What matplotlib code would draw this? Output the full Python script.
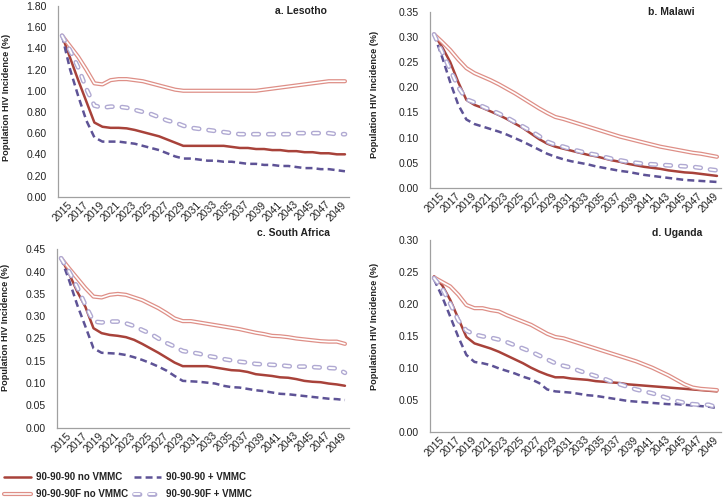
import matplotlib
matplotlib.use("Agg")
import matplotlib.pyplot as plt
import matplotlib.patheffects as pe
from matplotlib.lines import Line2D
import numpy as np

plt.rcParams['font.family'] = ['Liberation Sans', 'DejaVu Sans']
plt.rcParams['lines.scale_dashes'] = False

years = list(range(2015, 2051))
tick_years = list(range(2015, 2050, 2))

series_names = ["90-90-90 no VMMC", "90-90-90 + VMMC", "90-90-90F no VMMC", "90-90-90F + VMMC"]

# ---- a. Lesotho ----
les_909090 = [1.52, 1.31, 1.10, 0.90, 0.70, 0.66, 0.65, 0.65, 0.645, 0.63, 0.61, 0.59, 0.57, 0.54, 0.51, 0.48,
              0.48, 0.48, 0.48, 0.48, 0.48, 0.47, 0.46, 0.46, 0.45, 0.45, 0.44, 0.44, 0.43, 0.43, 0.42, 0.42,
              0.41, 0.41, 0.40, 0.40]
les_909090_v = [1.52, 1.20, 0.95, 0.72, 0.56, 0.52, 0.52, 0.52, 0.51, 0.50, 0.48, 0.46, 0.44, 0.41, 0.38, 0.36,
                0.36, 0.35, 0.34, 0.34, 0.33, 0.33, 0.32, 0.31, 0.31, 0.30, 0.30, 0.29, 0.29, 0.28, 0.27, 0.27,
                0.26, 0.26, 0.25, 0.24]
les_F = [1.52, 1.42, 1.32, 1.20, 1.07, 1.06, 1.10, 1.11, 1.11, 1.10, 1.09, 1.07, 1.05, 1.03, 1.01, 1.00,
         1.00, 1.00, 1.00, 1.00, 1.00, 1.00, 1.00, 1.00, 1.00, 1.01, 1.02, 1.03, 1.04, 1.05, 1.06, 1.07,
         1.08, 1.09, 1.09, 1.09]
les_F_v = [1.52, 1.38, 1.22, 1.02, 0.86, 0.84, 0.85, 0.85, 0.84, 0.82, 0.80, 0.78, 0.75, 0.72, 0.70, 0.67,
           0.65, 0.64, 0.63, 0.62, 0.61, 0.60, 0.59, 0.59, 0.59, 0.59, 0.59, 0.59, 0.59, 0.60, 0.60, 0.60,
           0.60, 0.60, 0.59, 0.59]

# ---- b. Malawi ----
mal_909090 = [0.305, 0.28, 0.25, 0.21, 0.175, 0.165, 0.159, 0.152, 0.145, 0.137, 0.128, 0.119, 0.108, 0.097,
              0.088, 0.082, 0.078, 0.074, 0.070, 0.066, 0.063, 0.059, 0.055, 0.052, 0.048, 0.045, 0.042,
              0.040, 0.038, 0.035, 0.033, 0.031, 0.030, 0.028, 0.026, 0.024]
mal_909090_v = [0.305, 0.26, 0.21, 0.165, 0.136, 0.127, 0.122, 0.117, 0.112, 0.106, 0.099, 0.092, 0.084, 0.076,
                0.068, 0.062, 0.057, 0.053, 0.050, 0.047, 0.043, 0.040, 0.037, 0.034, 0.032, 0.029, 0.026,
                0.024, 0.022, 0.020, 0.018, 0.016, 0.015, 0.014, 0.013, 0.012]
mal_F = [0.305, 0.29, 0.274, 0.255, 0.238, 0.228, 0.221, 0.214, 0.206, 0.197, 0.188, 0.178, 0.168, 0.158,
         0.149, 0.141, 0.137, 0.132, 0.127, 0.122, 0.117, 0.112, 0.107, 0.102, 0.098, 0.094, 0.090, 0.086,
         0.082, 0.079, 0.076, 0.073, 0.070, 0.068, 0.065, 0.062]
mal_F_v = [0.305, 0.27, 0.235, 0.20, 0.176, 0.170, 0.162, 0.155, 0.148, 0.140, 0.131, 0.122, 0.113, 0.103,
           0.092, 0.086, 0.082, 0.077, 0.073, 0.069, 0.066, 0.062, 0.058, 0.055, 0.052, 0.050, 0.048, 0.047,
           0.046, 0.045, 0.044, 0.043, 0.042, 0.040, 0.037, 0.035]

# ---- c. South Africa (values on the axis' own tick positions) ----
sa_909090 = [0.38, 0.345, 0.305, 0.271, 0.223, 0.212, 0.208, 0.206, 0.203, 0.197, 0.188, 0.178, 0.168, 0.157,
             0.146, 0.138, 0.138, 0.138, 0.138, 0.135, 0.132, 0.129, 0.128, 0.125, 0.120, 0.118, 0.116, 0.113,
             0.112, 0.109, 0.105, 0.103, 0.102, 0.099, 0.097, 0.094]
sa_909090_v = [0.38, 0.33, 0.275, 0.227, 0.178, 0.168, 0.167, 0.166, 0.163, 0.158, 0.152, 0.145, 0.137, 0.128,
               0.116, 0.105, 0.104, 0.103, 0.101, 0.099, 0.094, 0.091, 0.090, 0.087, 0.084, 0.082, 0.079, 0.076,
               0.075, 0.073, 0.071, 0.069, 0.067, 0.065, 0.064, 0.062]
sa_F = [0.38, 0.357, 0.335, 0.313, 0.294, 0.292, 0.298, 0.300, 0.298, 0.292, 0.286, 0.277, 0.268, 0.257,
        0.245, 0.239, 0.239, 0.236, 0.233, 0.230, 0.227, 0.224, 0.221, 0.217, 0.213, 0.210, 0.206, 0.205,
        0.203, 0.200, 0.198, 0.196, 0.194, 0.193, 0.193, 0.188]
sa_F_v = [0.38, 0.35, 0.315, 0.275, 0.238, 0.236, 0.238, 0.238, 0.234, 0.228, 0.219, 0.211, 0.200, 0.190,
          0.182, 0.172, 0.169, 0.166, 0.161, 0.158, 0.154, 0.151, 0.148, 0.146, 0.143, 0.142, 0.141, 0.140,
          0.138, 0.137, 0.137, 0.136, 0.135, 0.134, 0.133, 0.123]
sa_tick_labels = ["0.00", "0.05", "0.10", "0.15", "0.25", "0.30", "0.35", "0.40", "0.45"]

# ---- d. Uganda ----
uga_909090 = [0.243, 0.229, 0.206, 0.177, 0.148, 0.138, 0.134, 0.130, 0.125, 0.119, 0.113, 0.107, 0.100, 0.094,
              0.089, 0.085, 0.085, 0.083, 0.082, 0.081, 0.079, 0.078, 0.077, 0.076, 0.074, 0.073, 0.072, 0.071,
              0.070, 0.069, 0.068, 0.067, 0.066, 0.065, 0.064, 0.063]
uga_909090_v = [0.238, 0.211, 0.180, 0.148, 0.120, 0.109, 0.107, 0.104, 0.099, 0.095, 0.091, 0.086, 0.082, 0.076,
                0.066, 0.063, 0.062, 0.061, 0.059, 0.057, 0.056, 0.054, 0.052, 0.050, 0.048, 0.047, 0.046, 0.045,
                0.044, 0.043, 0.043, 0.042, 0.041, 0.040, 0.039, 0.037]
uga_F = [0.241, 0.234, 0.227, 0.214, 0.198, 0.193, 0.193, 0.190, 0.188, 0.182, 0.177, 0.172, 0.167, 0.160,
         0.153, 0.148, 0.146, 0.142, 0.138, 0.134, 0.130, 0.126, 0.122, 0.118, 0.114, 0.110, 0.105, 0.100,
         0.094, 0.088, 0.081, 0.074, 0.069, 0.067, 0.066, 0.065]
uga_F_v = [0.240, 0.224, 0.200, 0.174, 0.158, 0.152, 0.149, 0.147, 0.144, 0.140, 0.135, 0.130, 0.125, 0.119,
           0.113, 0.107, 0.103, 0.100, 0.095, 0.091, 0.087, 0.083, 0.078, 0.074, 0.070, 0.066, 0.063, 0.060,
           0.056, 0.052, 0.048, 0.045, 0.043, 0.042, 0.042, 0.038]

RED = "#A8423A"
PURPLE = "#5E5396"
PINK = "#DE8F87"
LAV = "#B0A9D2"


def style_kwargs(kind):
    if kind == 0:
        return dict(color=RED, lw=1.8, solid_capstyle='round')
    if kind == 1:
        return dict(color=PURPLE, lw=1.8, linestyle=(0, (5, 3)), dash_capstyle='butt')
    if kind == 2:
        return dict(color=PINK, lw=3.0, solid_capstyle='round',
                    path_effects=[pe.Stroke(linewidth=3.0, foreground=PINK),
                                  pe.Stroke(linewidth=1.2, foreground='white')])
    return dict(color=LAV, lw=3.4, linestyle=(0, (4.0, 6.8)), dash_capstyle='round',
                path_effects=[pe.Stroke(linewidth=3.4, foreground=LAV),
                              pe.Stroke(linewidth=1.4, foreground='white')])


W, H = 724, 503
fig = plt.figure(figsize=(W / 100, H / 100), dpi=100)

panels = [
    dict(rect=(58, 6, 349, 196.7), ylim=(0, 1.80), yticks=np.arange(0, 1.81, 0.2), labels=None,
         data=[les_909090, les_909090_v, les_F, les_F_v], title="a. Lesotho", tpos=(327, 11), ylab=(-0.16, 0.52)),
    dict(rect=(430, 11.7, 721, 188), ylim=(0, 0.35), yticks=np.arange(0, 0.351, 0.05), labels=None,
         data=[mal_909090, mal_909090_v, mal_F, mal_F_v], title="b. Malawi", tpos=(695, 12), ylab=(-0.175, 0.53)),
    dict(rect=(57, 249.3, 349, 427.7), ylim=(0, 0.40), yticks=np.arange(0, 0.401, 0.05), labels=sa_tick_labels,
         data=[sa_909090, sa_909090_v, sa_F, sa_F_v], title="c. South Africa", tpos=(330, 233), ylab=(-0.16, 0.56)),
    dict(rect=(430, 239.7, 721, 431.7), ylim=(0, 0.30), yticks=np.arange(0, 0.301, 0.05), labels=None,
         data=[uga_909090, uga_909090_v, uga_F, uga_F_v], title="d. Uganda", tpos=(702, 233), ylab=(-0.175, 0.55)),
]

x = np.arange(len(years))
for p in panels:
    x0, y0, x1, y1 = p["rect"]
    ax = fig.add_axes([x0 / W, 1 - y1 / H, (x1 - x0) / W, (y1 - y0) / H])
    for k, vals in enumerate(p["data"]):
        ax.plot(x, vals, zorder=2 + k, **style_kwargs(k))
    ax.set_xlim(-0.5, len(years) - 0.5)
    ax.set_ylim(*p["ylim"])
    ax.set_yticks(p["yticks"])
    if p["labels"] is not None:
        ax.set_yticklabels(p["labels"])
    else:
        ax.set_yticklabels([f"{v:.2f}" for v in p["yticks"]])
    tpos = [years.index(t) for t in tick_years]
    ax.set_xticks(tpos)
    ax.set_xticklabels([str(t) for t in tick_years], rotation=45, ha='center', va='top')
    ax.tick_params(axis='both', length=0, labelsize=7.5, colors='#222222')
    ax.tick_params(axis='y', pad=8)
    ax.tick_params(axis='x', pad=2)
    for s in ['top', 'right']:
        ax.spines[s].set_visible(False)
    for s in ['left', 'bottom']:
        ax.spines[s].set_color('#A0A0A0')
        ax.spines[s].set_linewidth(0.9)
    ax.set_ylabel("Population HIV Incidence (%)", fontsize=6.6, fontweight='bold', color='#222222')
    ax.yaxis.set_label_coords(*p["ylab"])
    ax.patch.set_alpha(0)
    fig.text(p["tpos"][0] / W, 1 - p["tpos"][1] / H, p["title"], ha='right', va='center',
             fontsize=7.5, fontweight='bold', color='#222222')

handles = []
for k in [0, 2, 1, 3]:
    handles.append(Line2D([0, 1], [0, 0], **style_kwargs(k)))
labels = [series_names[k] for k in [0, 2, 1, 3]]
fig.legend(handles, labels, ncol=2, loc='lower left', bbox_to_anchor=(0.0, 0.0),
           frameon=False, prop=dict(size=7, weight='bold'), handlelength=2.8,
           handletextpad=0.5, columnspacing=0.6, borderpad=0.2, labelspacing=0.7,
           borderaxespad=0.2, labelcolor='#222222')

fig.savefig("out.png", dpi=100)
